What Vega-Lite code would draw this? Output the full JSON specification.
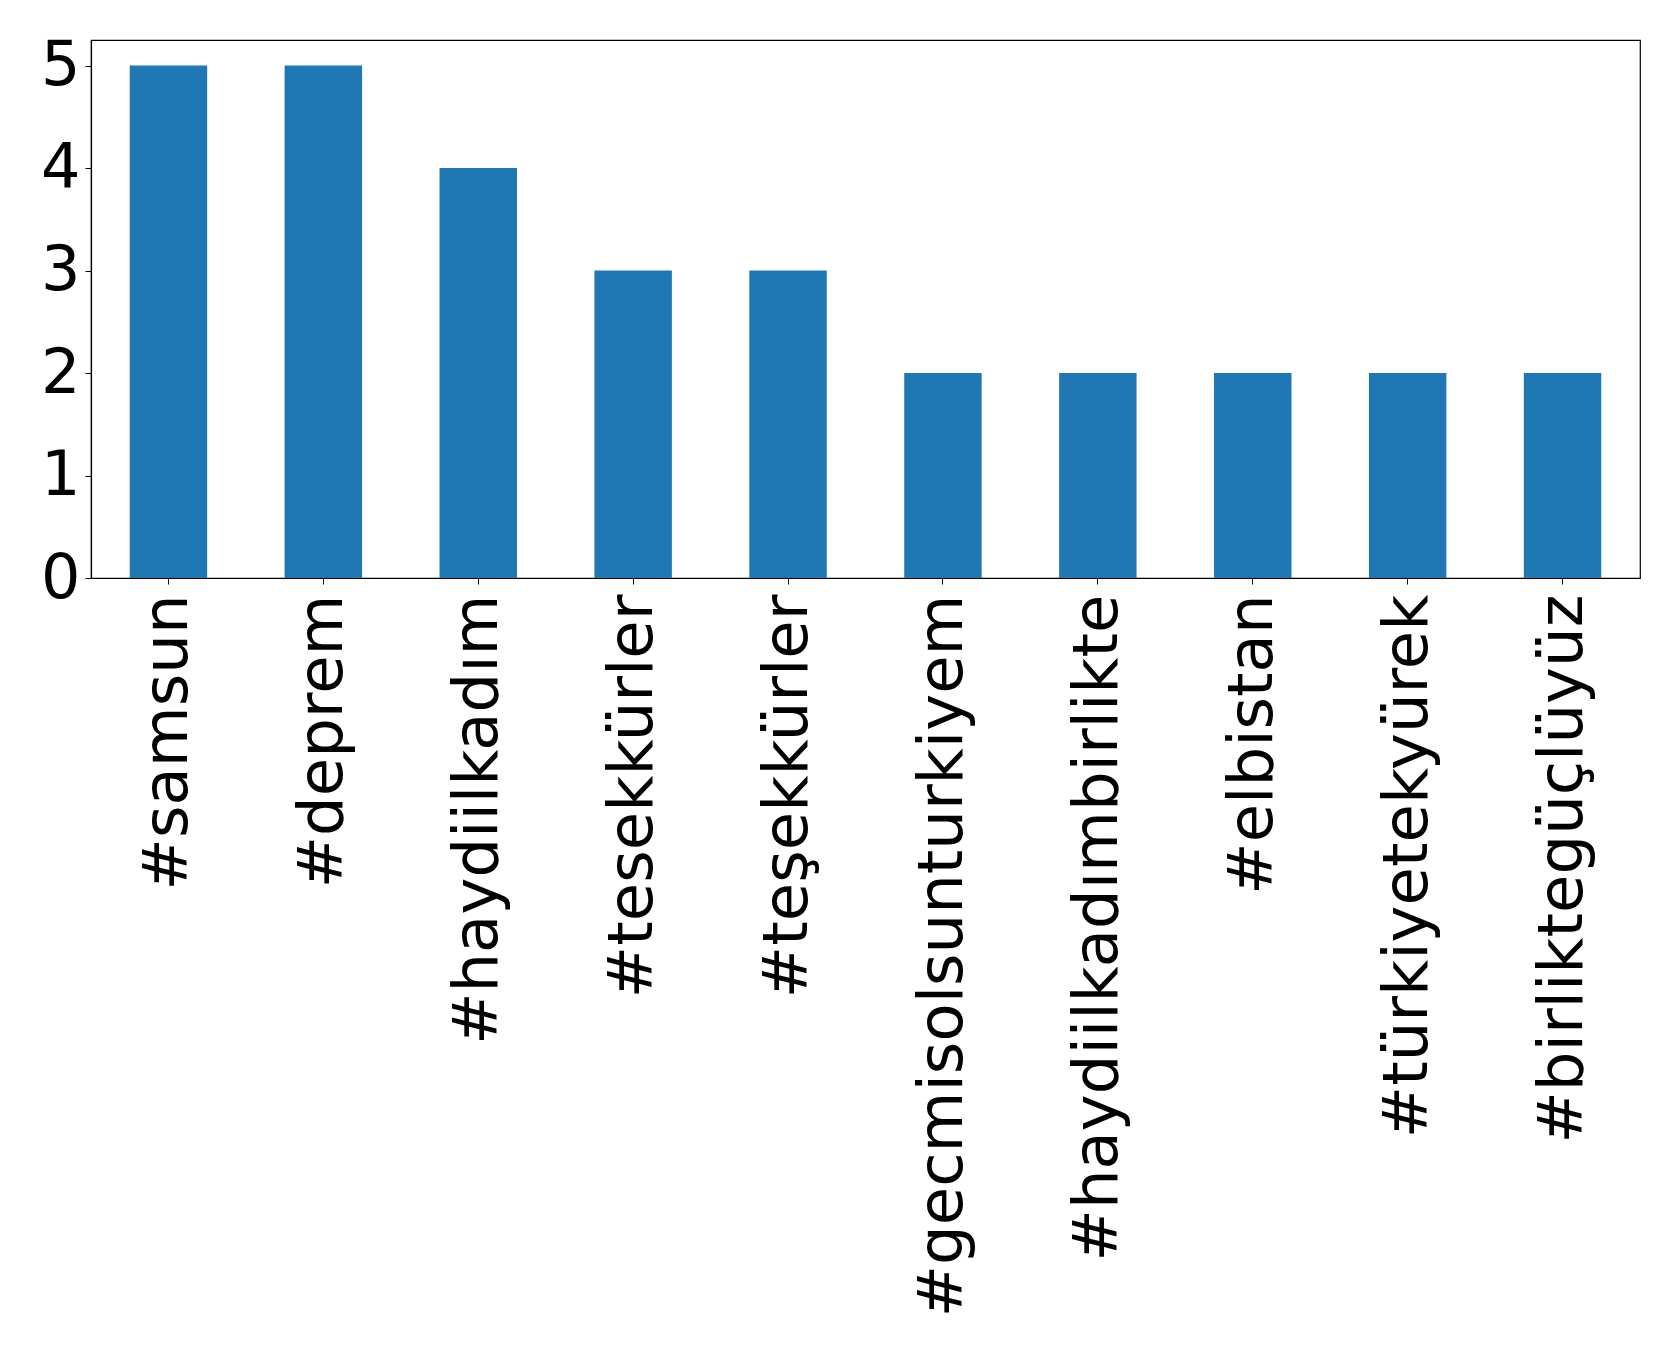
{
  "$schema": "https://vega.github.io/schema/vega-lite/v6.json",
  "autosize": "none",
  "width": 1549,
  "height": 538,
  "padding": {"left": 91, "top": 40, "right": 39, "bottom": 772},
  "background": "white",
  "config": {
    "view": {"stroke": "black", "strokeWidth": 1.2},
    "font": "DejaVu Sans"
  },
  "data": {
    "values": [
      {"hashtag": "#samsun", "count": 5},
      {"hashtag": "#deprem", "count": 5},
      {"hashtag": "#haydiilkadım", "count": 4},
      {"hashtag": "#tesekkürler", "count": 3},
      {"hashtag": "#teşekkürler", "count": 3},
      {"hashtag": "#gecmisolsunturkiyem", "count": 2},
      {"hashtag": "#haydiilkadımbirlikte", "count": 2},
      {"hashtag": "#elbistan", "count": 2},
      {"hashtag": "#türkiyetekyürek", "count": 2},
      {"hashtag": "#birliktegüçlüyüz", "count": 2}
    ]
  },
  "mark": {"type": "bar", "color": "#1f77b4"},
  "encoding": {
    "x": {
      "field": "hashtag",
      "type": "nominal",
      "sort": null,
      "scale": {"paddingInner": 0.5, "paddingOuter": 0.25},
      "axis": {
        "title": null,
        "labelAngle": -90,
        "labelFont": "DejaVu Sans",
        "labelFontSize": 62.5,
        "labelColor": "black",
        "labelLimit": 0,
        "labelPadding": 10,
        "tickSize": 6,
        "tickColor": "black",
        "domainColor": "black",
        "domainWidth": 1.2,
        "labelOverlap": false
      }
    },
    "y": {
      "field": "count",
      "type": "quantitative",
      "scale": {"domain": [0, 5.25], "nice": false},
      "axis": {
        "title": null,
        "values": [0, 1, 2, 3, 4, 5],
        "grid": false,
        "labelFont": "DejaVu Sans",
        "labelFontSize": 62,
        "labelColor": "black",
        "labelPadding": 5,
        "tickSize": 6,
        "tickColor": "black",
        "domainColor": "black",
        "domainWidth": 1.2,
        "labelOverlap": false,
        "labelFlush": false
      }
    }
  }
}
